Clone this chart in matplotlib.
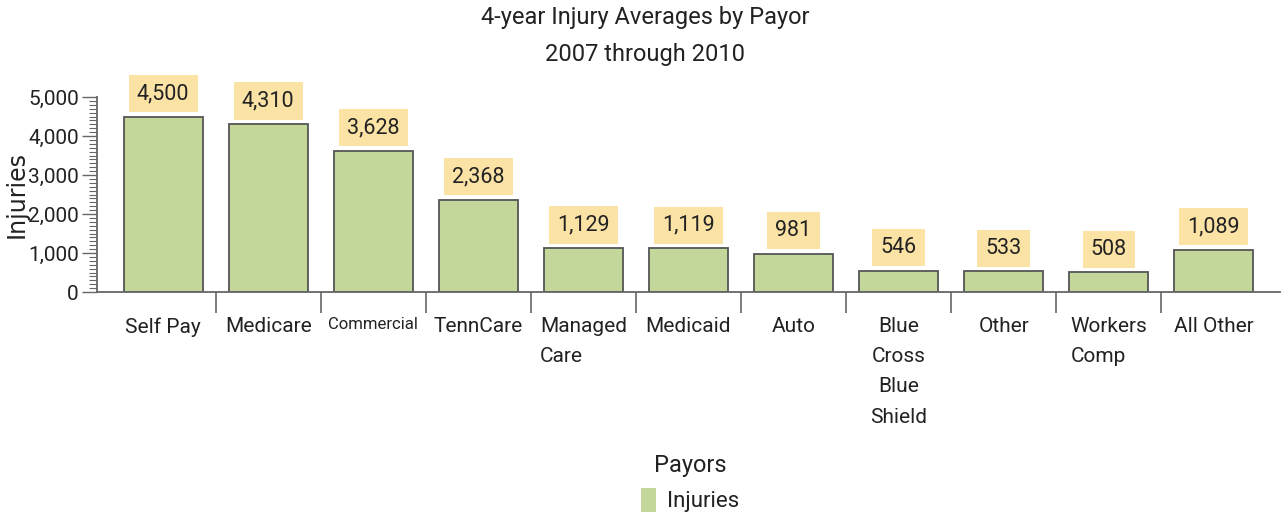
import numpy as np
import matplotlib
matplotlib.use("Agg")
from matplotlib import pyplot as plt
from matplotlib.ticker import MultipleLocator, FuncFormatter

# data
payors = ["Self Pay", "Medicare", "Commercial", "TennCare", "Managed\nCare",
          "Medicaid", "Auto", "Blue\nCross\nBlue\nShield", "Other",
          "Workers\nComp", "All Other"]
injuries = [4500, 4310, 3628, 2368, 1129, 1119, 981, 546, 533, 508, 1089]
label_align = ["center", "center", "center", "center", "left",
               "center", "center", "center", "center", "left", "center"]

plt.rcParams["font.family"] = ["Roboto", "DejaVu Sans"]

bar_color = "#C4D79B"
edge_color = "#555555"
axis_color = "#666666"
text_color = "#222222"
box_color = "#FBE3A6"

fig = plt.figure(figsize=(12.82, 5.21), dpi=100)
ax = fig.add_axes([97 / 1282, 1 - 292 / 521, (1280 - 97) / 1282, (292 - 97) / 521])

x = np.arange(len(payors))
bars = ax.bar(x, injuries, width=0.75, color=bar_color, edgecolor=edge_color,
              linewidth=1.3, label="Injuries", zorder=2)

for xi, val in zip(x, injuries):
    ax.annotate(f"{val:,}", (xi, val), xytext=(0, 9), textcoords="offset points",
                ha="center", va="bottom", fontsize=15.5, color=text_color,
                bbox=dict(boxstyle="square,pad=0.38", fc=box_color, ec="none"))

ax.set_xlim(-0.63, len(payors) - 1 + 0.63)
ax.set_ylim(0, 5000)

# y axis
ax.yaxis.set_major_locator(MultipleLocator(1000))
ax.yaxis.set_minor_locator(MultipleLocator(100))
ax.yaxis.set_major_formatter(FuncFormatter(lambda v, p: f"{int(v):,}"))
ax.tick_params(axis="y", which="major", length=11, width=1, color=axis_color,
               labelsize=15, labelcolor=text_color, pad=2)
ax.tick_params(axis="y", which="minor", length=6, width=0.8, color=axis_color)
ax.set_ylabel("Injuries", fontsize=17, family=["DejaVu Sans"], color=text_color)
ax.yaxis.set_label_coords(-0.058, 0.5)

# x axis: labels at centers, separator ticks between categories
ax.set_xticks(x)
ax.set_xticklabels(payors, linespacing=1.75)
ax.set_xticks(np.arange(0.5, len(payors) - 1, 1), minor=True)
ax.tick_params(axis="x", which="major", length=0, labelsize=15,
               labelcolor=text_color, pad=18)
ax.tick_params(axis="x", which="minor", length=15, width=1.2, color=axis_color)
for lab, al in zip(ax.get_xticklabels(), label_align):
    lab.set_multialignment(al)
    if lab.get_text() == "Commercial":
        lab.set_fontsize(12)

for side in ["top", "right"]:
    ax.spines[side].set_visible(False)
for side in ["left", "bottom"]:
    ax.spines[side].set_color(axis_color)
    ax.spines[side].set_linewidth(1.3)

fig.text(645 / 1282, 1 - 6 / 521, "4-year Injury Averages by Payor\n2007 through 2010",
         ha="center", va="top", fontsize=17, color=text_color, linespacing=1.8)

leg = fig.legend(handles=[bars], labels=["Injuries"], loc="upper center",
                 bbox_to_anchor=(690 / 1282, 1 - 438 / 521), frameon=False,
                 title="Payors", fontsize=16, title_fontsize=17,
                 handlelength=0.7, handleheight=1.3, handletextpad=0.5,
                 borderpad=0.2)
leg._legend_box.sep = 8
leg.legend_handles[0].set_edgecolor("none")
leg.get_title().set_color(text_color)
for t in leg.get_texts():
    t.set_color(text_color)

fig.savefig("out.png", dpi=100)
